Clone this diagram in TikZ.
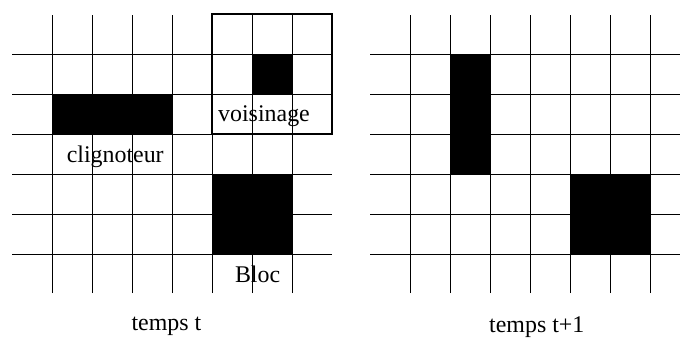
\documentclass[tikz,border=0pt]{standalone}
\usepackage{fontspec}
\setmainfont{Liberation Serif}

\begin{document}
\begin{tikzpicture}[x=1cm,y=1cm,font=\fontsize{17}{20}\selectfont]
	\clip (-0.3,-1.1) rectangle (16.7,7.35);
	\useasboundingbox (-0.3,-1.1) rectangle (16.7,7.35);
	
	% temps t
	\fill (1,4) rectangle (4,5);
	\fill (6,5) rectangle (7,6);
	\fill (5,1) rectangle (7,3);
	\foreach \x in {1,...,7} \draw[line width=0.7pt] (\x,0.02) -- (\x,6.98);
	\foreach \y in {1,...,6} \draw[line width=0.7pt] (0,\y) -- (8,\y);
	\draw[line width=1.9pt] (5,4) rectangle (8,7);
	
	\node (clign) at (2.58,3.43) {clignoteur};
	\node (vois) at (6.3,4.45) {voisinage};
	\node (bloc) at (6.14,0.5) {Bloc};
	\node (tempsT) at (3.86,-0.82) {temps t};
	
	% temps t+1
	\begin{scope}[xshift=8.95cm]
		\fill (2,3) rectangle (3,6);
		\fill (5,1) rectangle (7,3);
		\foreach \x in {1,...,7} \draw[line width=0.7pt] (\x,0.02) -- (\x,6.98);
		\foreach \y in {1,...,6} \draw[line width=0.7pt] (0,\y) -- (8,\y);
		
		\node (tempsT1) at (4.17,-0.82) {temps t+1};
	\end{scope}
	
\end{tikzpicture}
\end{document}
